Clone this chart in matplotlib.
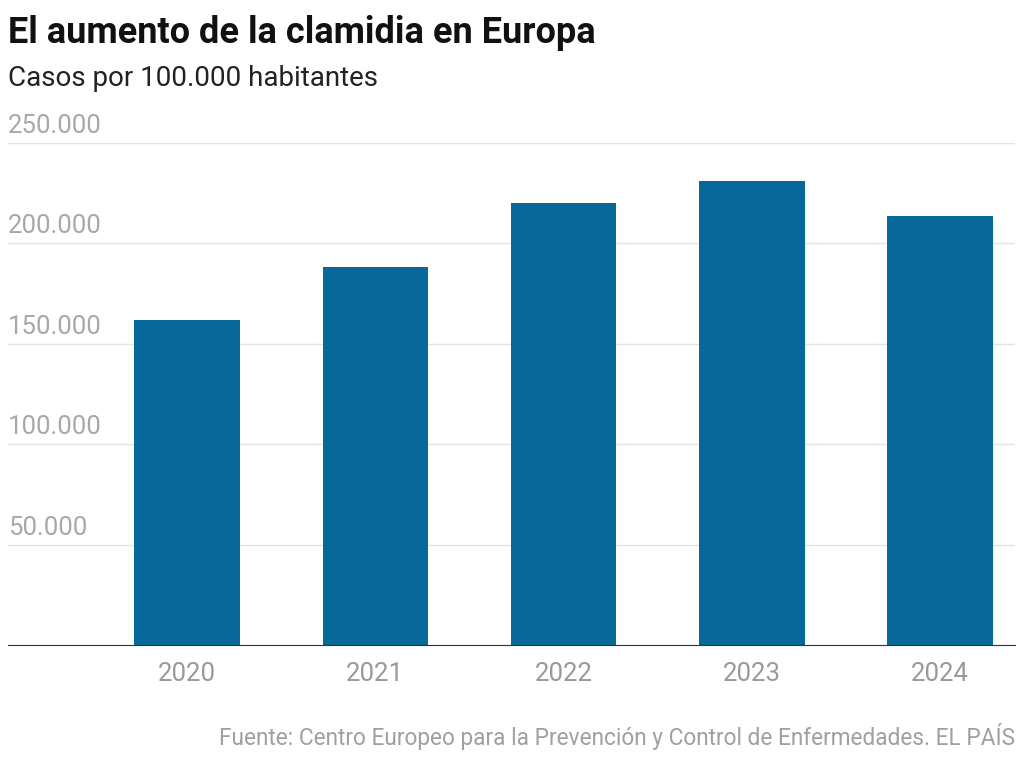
import matplotlib.pyplot as plt

years = ["2020", "2021", "2022", "2023", "2024"]
cases = [162000, 188000, 220000, 231000, 213500]
y_ticks = [50000, 100000, 150000, 200000, 250000]
y_labels = ["50.000", "100.000", "150.000", "200.000", "250.000"]

plt.rcParams["font.family"] = ["Roboto", "DejaVu Sans"]

fig = plt.figure(figsize=(10.24, 7.6), dpi=100)
ax = fig.add_axes([8 / 1024, 1 - 645 / 760, 1007 / 1024, (645 - 143) / 760])

x = range(len(years))
ax.bar(x, cases, width=0.56, color="#06699a", zorder=2)
ax.set_xlim(-0.951, 4.398)
ax.set_ylim(0, 250000)

for v, lab in zip(y_ticks, y_labels):
    ax.axhline(v, color="#e3e3e3", linewidth=1, zorder=1)
    ax.text(-0.951, v + 2500, lab, ha="left", va="bottom", fontsize=18.5,
            color="#a8a8a8", clip_on=False)

ax.set_xticks(list(x))
ax.set_xticklabels(years, fontsize=18.5, color="#999999")
ax.tick_params(axis="x", length=0, pad=12)
ax.set_yticks([])
for s in ["top", "right", "left"]:
    ax.spines[s].set_visible(False)
ax.spines["bottom"].set_color("#333333")

fig.text(8 / 1024, 1 - 33 / 760, "El aumento de la clamidia en Europa",
         fontsize=26, fontweight="bold", va="center", color="#111111")
fig.text(8 / 1024, 1 - 78 / 760, "Casos por 100.000 habitantes",
         fontsize=20, va="center", color="#222222")
fig.text(1015 / 1024, 1 - 737 / 760,
         "Fuente: Centro Europeo para la Prevención y Control de Enfermedades. EL PAÍS",
         fontsize=16.3, ha="right", va="center", color="#a0a0a0")

fig.savefig("out.png", dpi=100, facecolor="white")
